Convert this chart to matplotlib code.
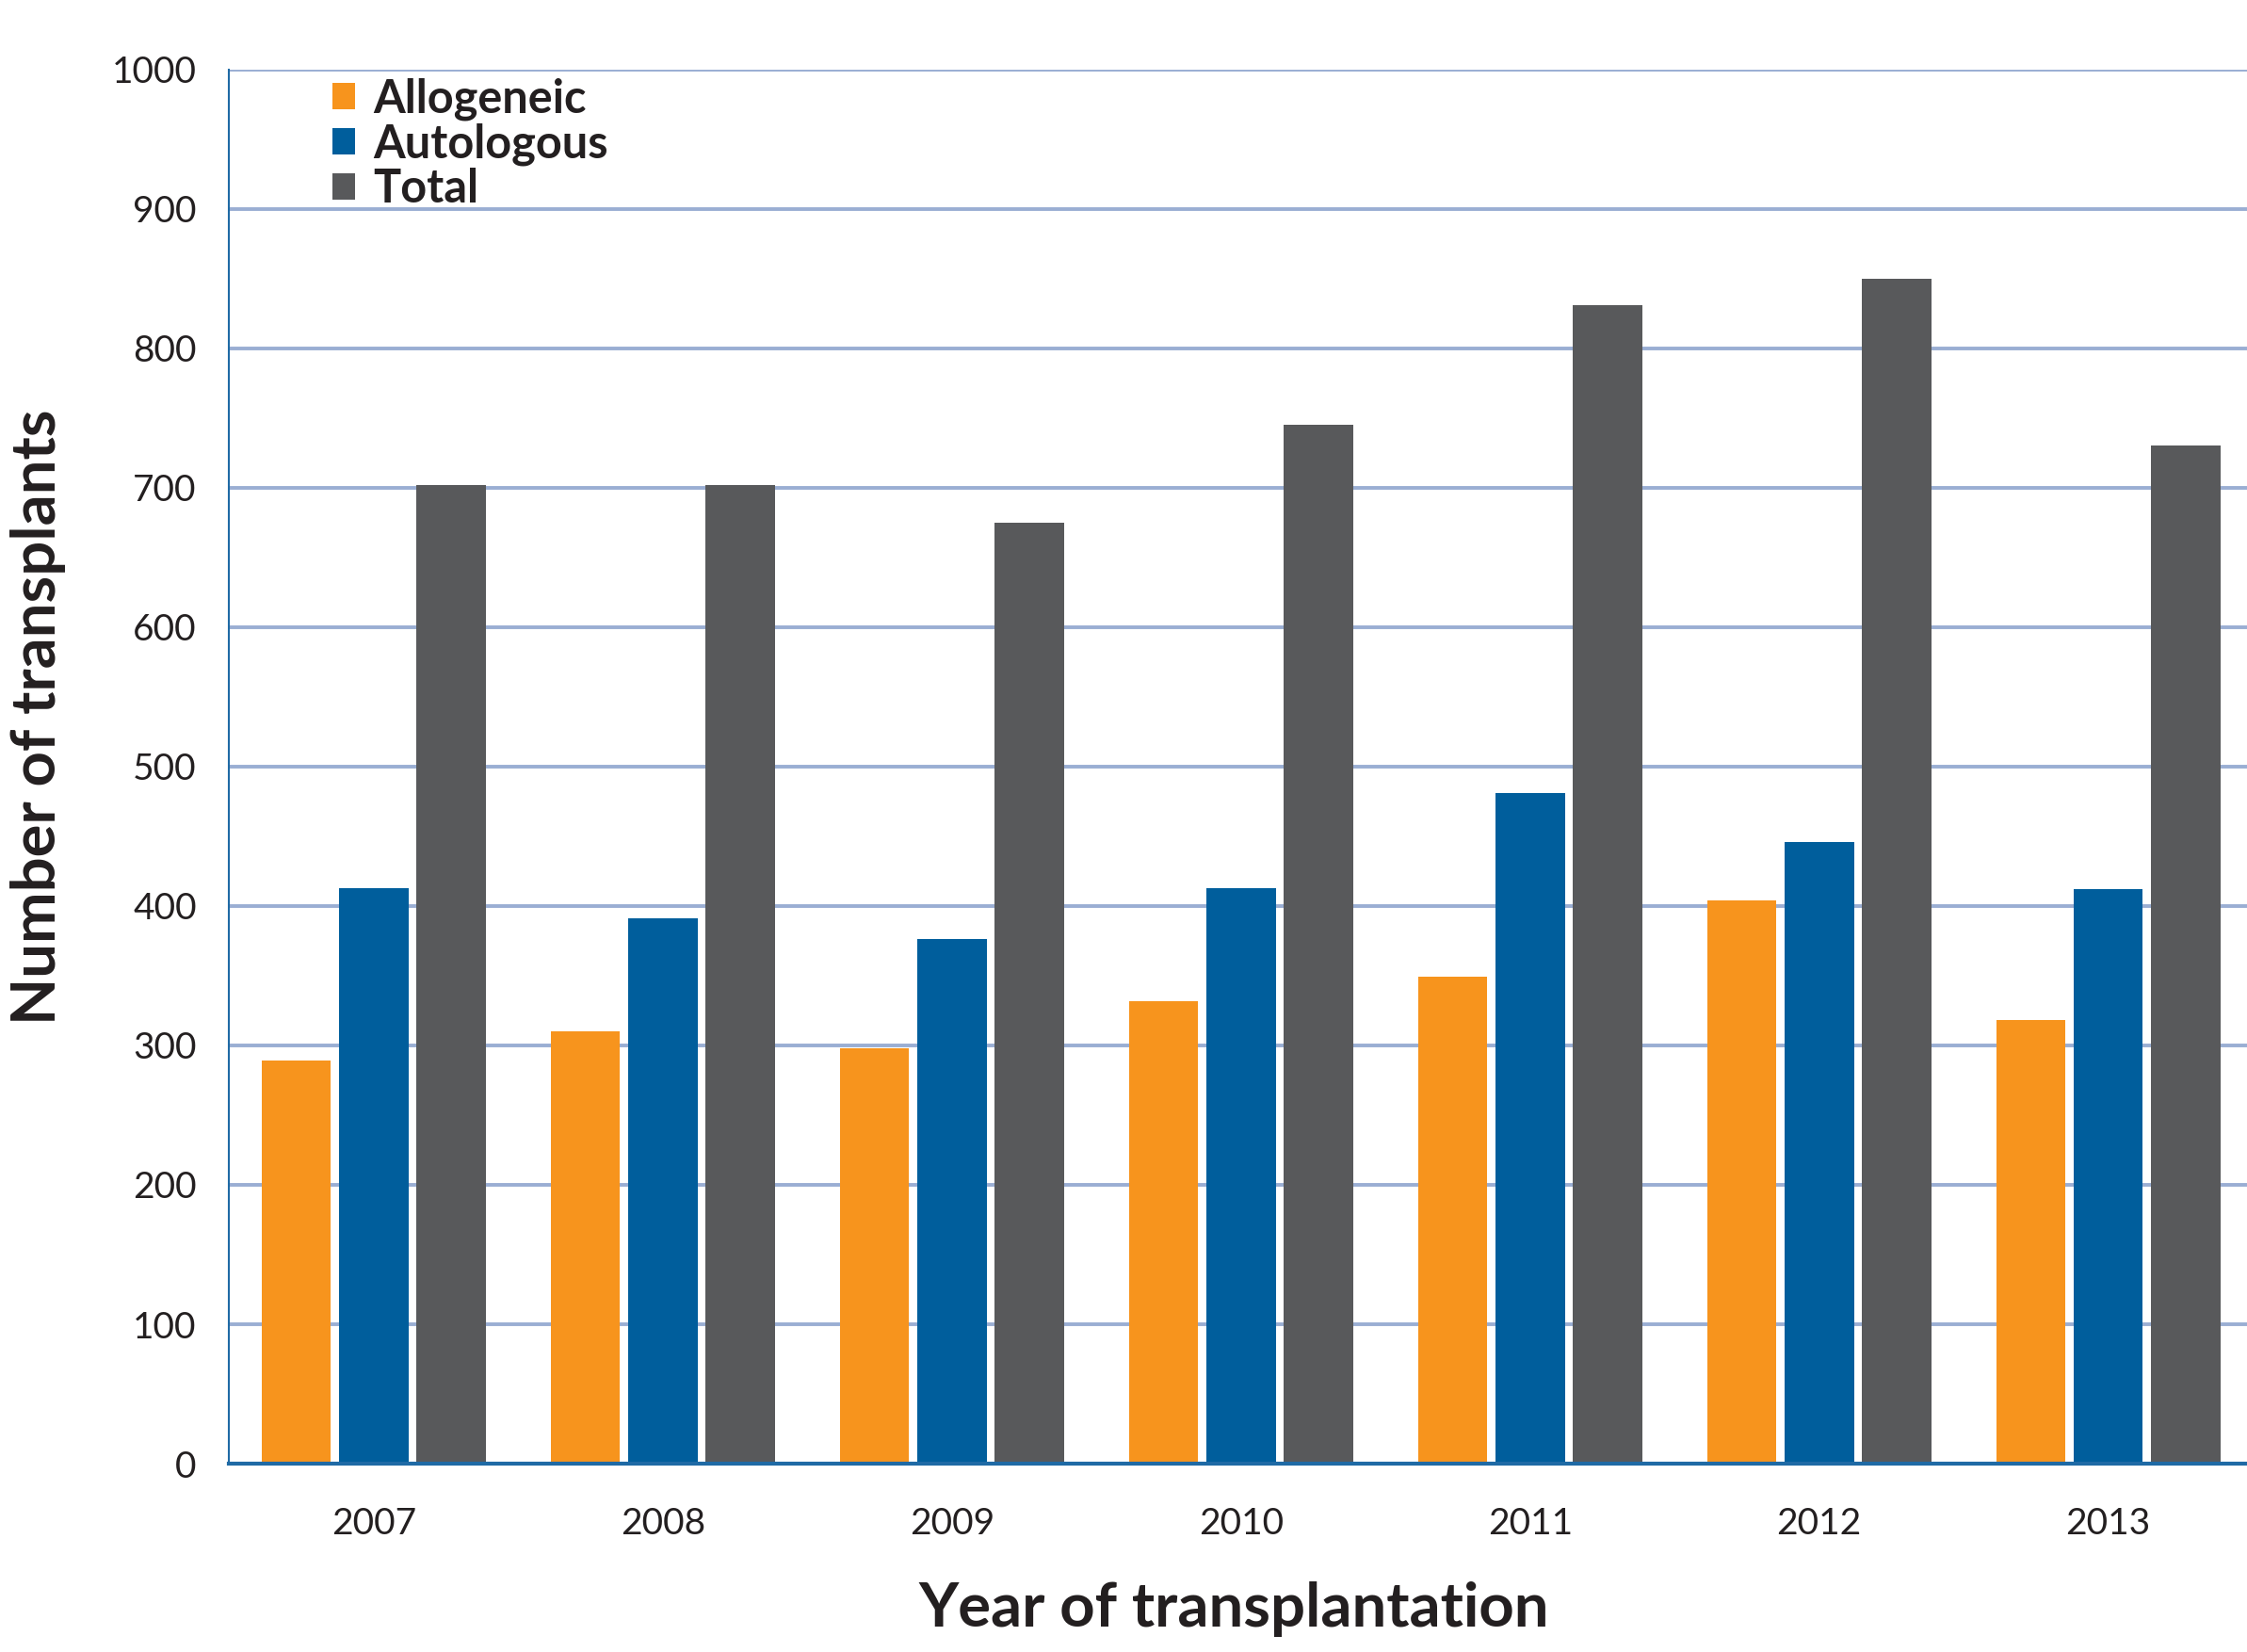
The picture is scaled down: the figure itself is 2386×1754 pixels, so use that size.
import numpy as np
import matplotlib
matplotlib.use('Agg')
import matplotlib.pyplot as plt
from matplotlib.ticker import MultipleLocator
from matplotlib.patches import Patch

## Data
years= ['2007','2008','2009','2010','2011','2012','2013']
allogeneic= [289, 310, 298, 332, 349, 404, 318]
autologous= [413, 391, 376, 413, 481, 446, 412]
total= [702, 702, 675, 745, 831, 850, 730]

series_names= ['Allogeneic','Autologous','Total']
colors= ['#F7941D','#005E9C','#58595B']

tick_font= ['Lato','DejaVu Sans']
label_font= ['Lato','Open Sans','DejaVu Sans']

def main():
    fig= plt.figure()
    fig.set_size_inches(23.86,17.54)
    ax= fig.add_axes([0.102,0.114,0.898,0.844])

    xloc= np.arange(len(years))
    wd,step= 0.24,0.268
    for i,(vals,col) in enumerate(zip([allogeneic,autologous,total],colors)):
        ax.bar(xloc+(i-1)*step,vals,width=wd,color=col,zorder=3)

    ax.set_xlim(-0.5,6.48)
    ax.set_ylim(0,1000)
    ax.yaxis.set_major_locator(MultipleLocator(100))
    ax.set_xticks(xloc)
    ax.set_xticklabels(years)

    ax.grid(axis='y',color='#9AAED3',lw=2.8,zorder=0)
    ax.set_axisbelow(True)
    for s in ['top','right']:
        ax.spines[s].set_visible(False)
    ax.spines['left'].set_color('#1F6AA5')
    ax.spines['left'].set_linewidth(1.5)
    ax.spines['bottom'].set_color('#1F6AA5')
    ax.spines['bottom'].set_linewidth(3)
    ax.spines['bottom'].set_zorder(4)

    ax.tick_params(length=0,labelsize=28,labelcolor='#231F20')
    ax.tick_params(axis='y',pad=25)
    ax.tick_params(axis='x',pad=33)
    for lab in ax.get_xticklabels()+ax.get_yticklabels():
        lab.set_family(tick_font)

    ## Axis titles
    fig.text(0.017,0.566,'Number of transplants',rotation=90,ha='center',va='center',
             fontsize=47,fontweight='bold',family=label_font,color='#231F20')
    fig.text(0.549,0.026,'Year of transplantation',ha='center',va='center',
             fontsize=47,fontweight='bold',family=label_font,color='#231F20')

    ## Legend
    handles= [Patch(facecolor=c,edgecolor='none') for c in colors]
    leg= ax.legend(handles,series_names,loc='upper left',bbox_to_anchor=(0.051,0.994),
                   frameon=False,handlelength=0.5,handleheight=0.5,handletextpad=0.4,
                   labelspacing=0.05,borderaxespad=0,borderpad=0,
                   prop=dict(family=label_font,weight='bold',size=35))
    for t in leg.get_texts():
        t.set_color('#231F20')

    fig.savefig('out.png',dpi=100,facecolor='white')
    return

if __name__=='__main__':
    main()
